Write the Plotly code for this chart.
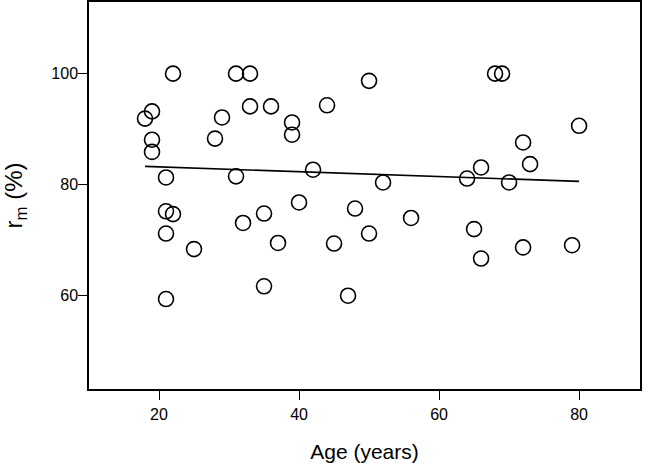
import plotly.graph_objects as go

age = [18, 19, 19, 19, 21, 21, 22, 21, 21, 22, 25, 28, 29, 31, 33, 31, 32, 33, 35, 35,
       36, 37, 39, 39, 40, 42, 44, 45, 47, 48, 50, 50, 52, 56, 64, 65, 66, 66, 68, 69,
       70, 72, 72, 73, 79, 80]
rm = [91.9, 93.2, 88.1, 85.9, 81.3, 75.2, 74.7, 71.2, 59.4, 100, 68.4, 88.3, 92.1, 100, 100, 81.5, 73.1, 94.1, 74.8, 61.7,
      94.1, 69.5, 91.2, 89.0, 76.8, 82.7, 94.3, 69.4, 60.0, 75.7, 98.7, 71.2, 80.4, 74.0, 81.1, 72.0, 83.1, 66.7, 100, 100,
      80.4, 87.6, 68.7, 83.7, 69.1, 90.6]

fit_x = [18, 80]
fit_y = [83.3, 80.6]

x_ticks = [20, 40, 60, 80]
y_ticks = [60, 80, 100]

FONT = "Liberation Sans, Arial, sans-serif"

fig = go.Figure()
fig.add_trace(go.Scatter(
    x=age, y=rm, mode="markers",
    marker=dict(symbol="circle-open", size=15, color="black", line=dict(width=1.6, color="black")),
    showlegend=False,
))
fig.add_trace(go.Scatter(
    x=fit_x, y=fit_y, mode="lines",
    line=dict(color="black", width=1.6),
    showlegend=False,
))

axis_common = dict(
    showline=True, mirror=True, linecolor="black", linewidth=1.5,
    ticks="outside", ticklen=9, tickwidth=1.3, tickcolor="black",
    showgrid=False, zeroline=False, automargin=False,
    tickfont=dict(family=FONT, size=16, color="black"),
)

fig.update_layout(
    width=650, height=463,
    margin=dict(l=89, r=10, t=2, b=74),
    paper_bgcolor="white", plot_bgcolor="white",
    xaxis=dict(range=[10, 88.7], tickvals=x_ticks, ticklabelstandoff=1,
               title=dict(text="Age (years)", standoff=24,
                          font=dict(family=FONT, size=21, color="black")),
               **axis_common),
    yaxis=dict(range=[43.2, 112.9], tickvals=y_ticks, ticklabelstandoff=-3,
               title=dict(text="r<sub>m</sub> (%)", standoff=24,
                          font=dict(family=FONT, size=24, color="black")),
               **axis_common),
)

fig.write_html("out.html", config={"displayModeBar": False},
               post_script="document.body.style.margin='0';document.body.style.overflow='hidden';")
